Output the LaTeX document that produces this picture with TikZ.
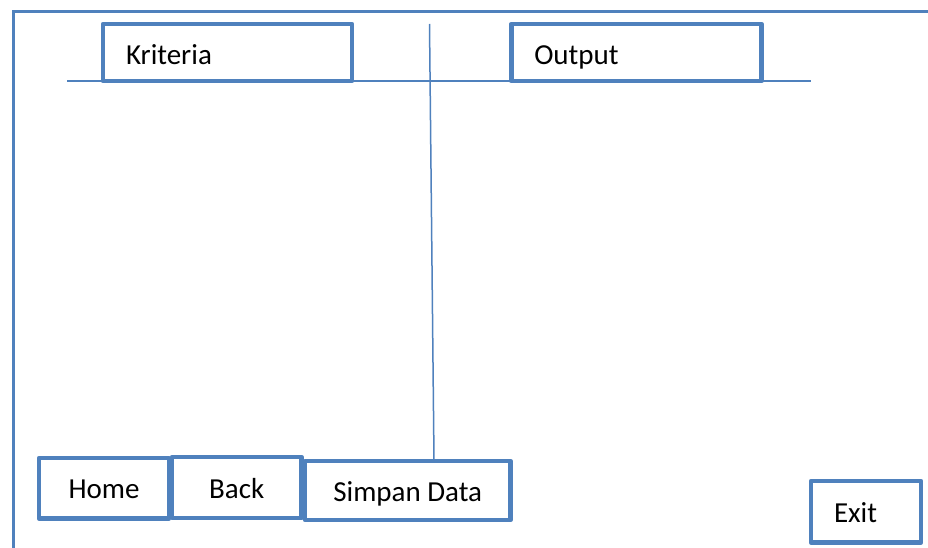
\documentclass[tikz,border=0pt]{standalone}
\usepackage{fontspec}
\setmainfont{Carlito}
\definecolor{officeblue}{HTML}{4F81BD}
\tikzset{
  frameline/.style={draw=officeblue, line width=3.6pt},
  thinline/.style={draw=officeblue, line width=1.5pt},
  uibox/.style={draw=officeblue, fill=white, line width=4.6pt, line join=round,
    rectangle, inner ysep=0pt, text height=21pt, text depth=0pt,
    font=\fontsize{29}{34}\selectfont},
  leftbox/.style={uibox, align=left, inner xsep=23pt},
  midbox/.style={uibox, align=center, inner xsep=0pt},
  headbox/.style={leftbox, text height=23.6pt, minimum height=57pt},
}
\begin{document}
\begin{tikzpicture}[x=1pt, y=-1pt]
  \useasboundingbox (0,0) rectangle (928,548);
  \fill[white] (0,0) rectangle (928,548);

  % outer window frame, running off the right and bottom edges
  \begin{scope}
    \clip (0,0) rectangle (928,548);
    \draw[frameline] (940,11.5) -- (13.5,11.5) -- (13.5,560);
  \end{scope}

  % divider lines
  \coordinate (hl) at (67,81);
  \coordinate (hr) at (811,81);
  \coordinate (vtop) at (429.5,24);
  \coordinate (vbot) at (434,460);
  \draw[thinline] (hl) -- (hr);
  \draw[thinline] (vtop) -- (vbot);

  % header boxes
  \node[headbox, text width=203pt] (kriteria) at (227.5,52.5) {Kriteria};
  \node[headbox, text width=204pt] (output) at (636.25,52.5) {Output};

  % buttons
  \node[midbox, minimum width=130pt, minimum height=60.5pt] (home)
    at (104,488.25) {Home};
  \node[midbox, minimum width=129.5pt, minimum height=61pt] (back)
    at (236.75,487.5) {Back};
  \node[midbox, minimum width=205.5pt, minimum height=59pt] (simpan)
    at (407.75,490.5) {Simpan Data};
  \node[leftbox, text width=64pt, minimum height=61.5pt] (exit)
    at (866,511.75) {Exit};
\end{tikzpicture}
\end{document}
